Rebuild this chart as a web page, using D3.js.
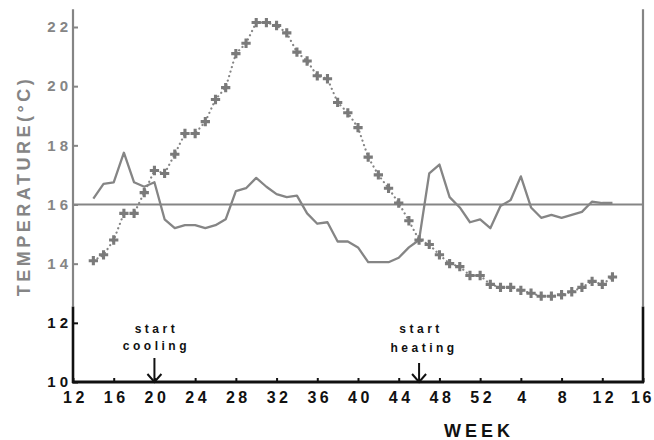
<!DOCTYPE html>
<html>
<head>
<meta charset="utf-8">
<script src="https://cdn.jsdelivr.net/npm/d3@7"></script>
<style>
  body { margin: 0; background: #fff; }
  svg { display: block; }
  svg text { font-family: "Liberation Sans", Arial, sans-serif; font-weight: bold; }
</style>
</head>
<body>
<div id="chart"></div>
<script>
// weeks counted on from the first year, so 53 is week 1 of the next year
var weeks = [14,15,16,17,18,19,20,21,22,23,24,25,26,27,28,29,30,31,32,33,
             34,35,36,37,38,39,40,41,42,43,44,45,46,47,48,49,50,51,52,
             53,54,55,56,57,58,59,60,61,62,63,64,65];

var solidTemp = [16.2,16.7,16.75,17.75,16.75,16.6,16.75,15.5,15.2,15.3,15.3,15.2,15.3,15.5,16.45,16.55,16.9,16.6,16.35,16.25,
                 16.3,15.7,15.35,15.4,14.75,14.75,14.55,14.05,14.05,14.05,14.2,14.55,14.8,17.05,17.35,16.25,15.9,15.4,15.5,
                 15.2,15.95,16.15,16.95,15.9,15.55,15.65,15.55,15.65,15.75,16.1,16.05,16.05];

var crossTemp = [14.1,14.3,14.8,15.7,15.7,16.4,17.15,17.05,17.7,18.4,18.4,18.8,19.55,19.95,21.1,21.45,22.15,22.15,22.05,21.8,
                 21.15,20.85,20.35,20.25,19.45,19.1,18.6,17.6,17.0,16.55,16.05,15.45,14.8,14.65,14.3,14.0,13.9,13.6,13.6,
                 13.3,13.2,13.2,13.1,13.0,12.9,12.9,12.95,13.05,13.2,13.4,13.3,13.55];

var refTemp = 16;

var tickWeeks = [12,16,20,24,28,32,36,40,44,48,52,56,60,64,68];
var tickLabels = ["12","16","20","24","28","32","36","40","44","48","52","4","8","12","16"];
var yTicks = [10,12,14,16,18,20,22];

var noteWeeks = [20, 46];
var noteLines = [["start","cooling"], ["start","heating"]];

var width = 654, height = 440;
var gray = "#858585", black = "#111";
var yTop = 22.6, ySplit = 12.55;   // where the faded (grey) part of the scan stops

var x = d3.scaleLinear().domain([12, 68]).range([73, 643]);
var y = d3.scaleLinear().domain([10, 22]).range([382, 27]);

var svg = d3.select("#chart").append("svg")
    .attr("width", width)
    .attr("height", height);

// frame: left and right sides, grey above, black below
[12, 68].forEach(function(w) {
  svg.append("line")
    .attr("x1", x(w)).attr("x2", x(w))
    .attr("y1", y(yTop)).attr("y2", y(ySplit))
    .attr("stroke", gray).attr("stroke-width", 2.2);
  svg.append("line")
    .attr("x1", x(w)).attr("x2", x(w))
    .attr("y1", y(ySplit)).attr("y2", y(10) + 1)
    .attr("stroke", black).attr("stroke-width", 2.6);
});

// y axis
var yAxis = d3.axisLeft(y)
    .tickValues(yTicks)
    .tickSizeInner(-5)
    .tickSizeOuter(0)
    .tickPadding(1);

var yg = svg.append("g")
    .attr("transform", "translate(" + x(12) + ",0)")
    .call(yAxis)
    .attr("font-family", null);
yg.select(".domain").remove();
yg.selectAll(".tick line")
    .attr("stroke", function(d) { return d >= 14 ? gray : black; })
    .attr("stroke-width", 2);
yg.selectAll(".tick text")
    .attr("fill", function(d) { return d >= 14 ? gray : black; })
    .style("font-size", "15px")
    .style("letter-spacing", "4px");

// x axis
var xAxis = d3.axisBottom(x)
    .tickValues(tickWeeks)
    .tickFormat(function(d, i) { return tickLabels[i]; })
    .tickSizeInner(-4)
    .tickSizeOuter(0)
    .tickPadding(10);

var xg = svg.append("g")
    .attr("transform", "translate(0," + y(10) + ")")
    .call(xAxis)
    .attr("font-family", null);
xg.select(".domain").remove();
xg.selectAll(".tick line").attr("stroke", black).attr("stroke-width", 2);
xg.selectAll(".tick text")
    .attr("fill", black)
    .attr("dx", function(d, i) { return i == tickWeeks.length - 1 ? "-1px" : "2px"; })
    .style("font-size", "16px")
    .style("letter-spacing", function(d, i) { return i == tickWeeks.length - 1 ? "2.5px" : "3.5px"; });

svg.append("line")
    .attr("x1", x(12) - 1).attr("x2", x(68) + 1)
    .attr("y1", y(10)).attr("y2", y(10))
    .attr("stroke", black).attr("stroke-width", 2.8);

// 16 degree reference
svg.append("line")
    .attr("x1", x(12)).attr("x2", x(68))
    .attr("y1", y(refTemp)).attr("y2", y(refTemp))
    .attr("stroke", gray).attr("stroke-width", 2.2);

var solidData = weeks.map(function(w, i) { return {w: w, t: solidTemp[i]}; });
var crossData = weeks.map(function(w, i) { return {w: w, t: crossTemp[i]}; });

var line = d3.line()
    .x(function(d) { return x(d.w); })
    .y(function(d) { return y(d.t); });

svg.append("path")
    .datum(solidData)
    .attr("d", line)
    .attr("fill", "none")
    .attr("stroke", gray)
    .attr("stroke-width", 2.3)
    .attr("stroke-linejoin", "round");

svg.append("path")
    .datum(crossData)
    .attr("d", line)
    .attr("fill", "none")
    .attr("stroke", gray)
    .attr("stroke-width", 2.2)
    .attr("stroke-linecap", "round")
    .attr("stroke-dasharray", "0.1,4.6");

svg.selectAll(".cross")
    .data(crossData)
    .enter().append("path")
    .attr("class", "cross")
    .attr("transform", function(d) { return "translate(" + x(d.w) + "," + y(d.t) + ")"; })
    .attr("d", d3.symbol(d3.symbolCross, 48))
    .attr("fill", "#7a7a7a");

// start cooling / start heating notes with arrows
noteWeeks.forEach(function(w, i) {
  var cx = x(w);
  var base = y(10);
  svg.append("text")
    .attr("x", cx + 2).attr("y", base - 49)
    .attr("text-anchor", "middle")
    .attr("fill", black)
    .style("font-size", "12px")
    .style("letter-spacing", "3.5px")
    .text(noteLines[i][0]);
  svg.append("text")
    .attr("x", cx + 2 + i * 3).attr("y", base - 32 + i * 2)
    .attr("text-anchor", "middle")
    .attr("fill", black)
    .style("font-size", "12px")
    .style("letter-spacing", "3.5px")
    .text(noteLines[i][1]);
  svg.append("line")
    .attr("x1", cx).attr("x2", cx)
    .attr("y1", base - 24 + i * 5).attr("y2", base)
    .attr("stroke", black).attr("stroke-width", 2);
  svg.append("path")
    .attr("d", "M" + (cx - 7) + "," + (base - 8) + "L" + cx + "," + base + "L" + (cx + 7) + "," + (base - 8))
    .attr("fill", "none")
    .attr("stroke", black)
    .attr("stroke-width", 2);
});

// axis titles
svg.append("text")
    .attr("transform", "translate(30," + 186 + ") rotate(-90)")
    .attr("text-anchor", "middle")
    .attr("fill", gray)
    .style("font-size", "18px")
    .style("letter-spacing", "3.5px")
    .text("TEMPERATURE(°C)");

svg.append("text")
    .attr("x", 479).attr("y", 437)
    .attr("text-anchor", "middle")
    .attr("fill", black)
    .style("font-size", "18px")
    .style("letter-spacing", "4px")
    .text("WEEK");
</script>
</body>
</html>
